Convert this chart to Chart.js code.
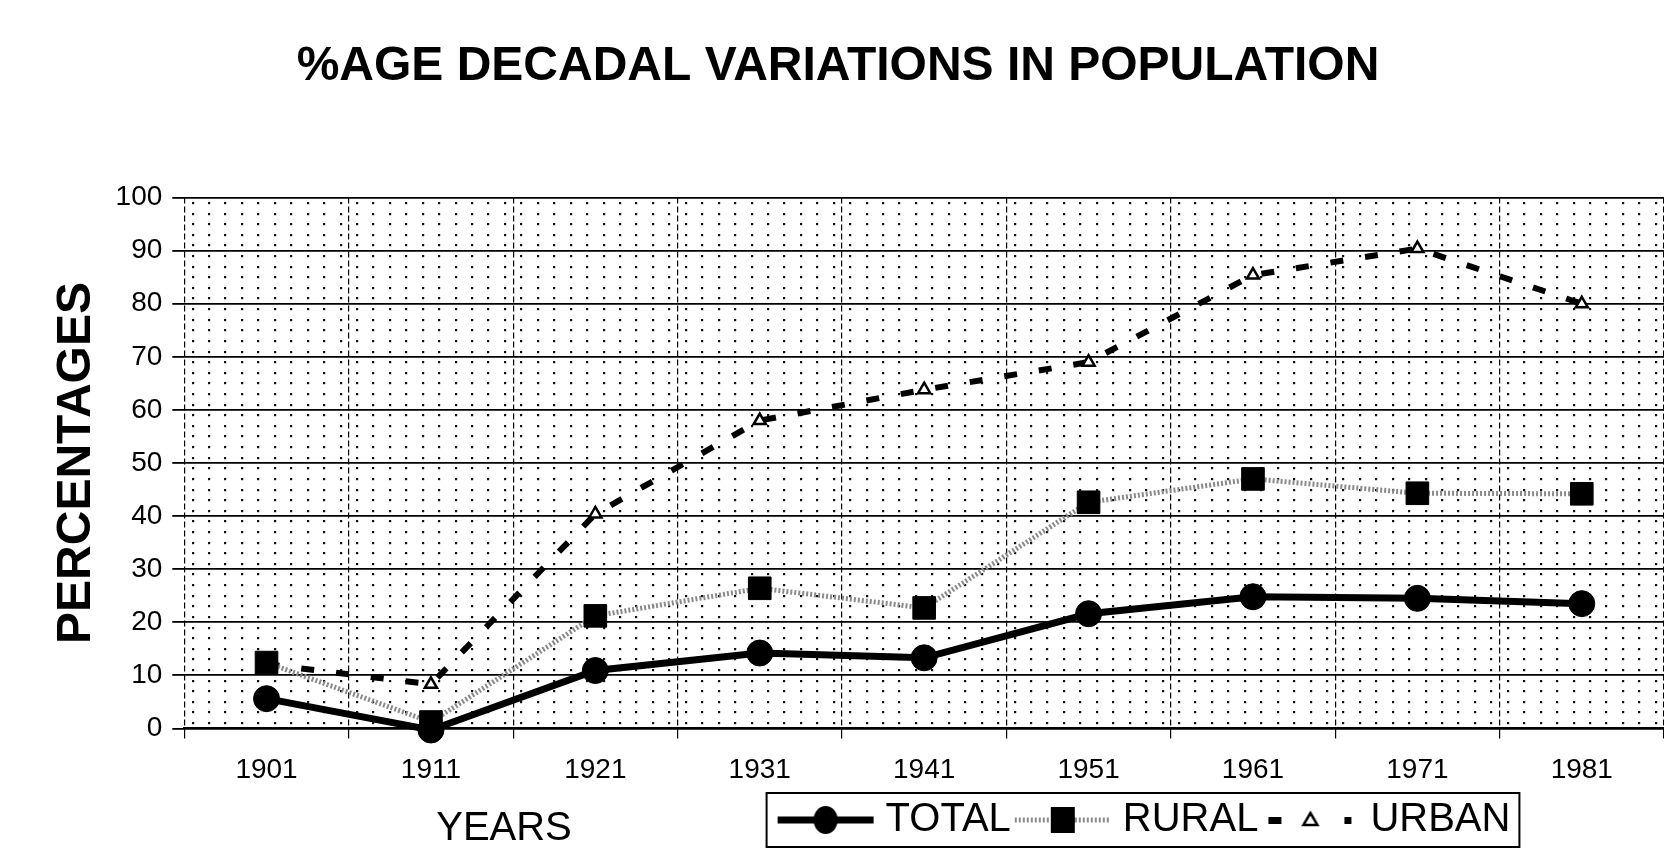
<!DOCTYPE html>
<html>
<head>
<meta charset="utf-8">
<script src="https://cdn.jsdelivr.net/npm/chart.js@4.4.1/dist/chart.umd.min.js"></script>
<style>
  html, body { margin: 0; padding: 0; background: #ffffff; overflow: hidden; }
  #wrap { width: 1664px; height: 864px; }
</style>
</head>
<body>
<div id="wrap"><canvas id="c" width="1664" height="864"></canvas></div>
<script>
// ---------------- data ----------------
const years = ['1901', '1911', '1921', '1931', '1941', '1951', '1961', '1971', '1981'];
const totalValues = [5.6, -0.3, 10.9, 14.2, 13.3, 21.6, 24.8, 24.5, 23.5];
const ruralValues = [12.4, 1.2, 21.2, 26.4, 22.7, 42.6, 47.0, 44.3, 44.2];
const urbanValues = [12.1, 8.3, 40.4, 58.0, 63.8, 69.0, 85.4, 90.4, 80.0];
const yTickValues = [0, 10, 20, 30, 40, 50, 60, 70, 80, 90, 100];
const seriesNames = ['TOTAL', 'RURAL', 'URBAN'];
const chartTitle = '%AGE DECADAL VARIATIONS IN POPULATION';
const xTitle = 'YEARS';
const yTitle = 'PERCENTAGES';

// ---------------- legend icons (line + marker samples) ----------------
function makeIcon(kind) {
  const cv = document.createElement('canvas');
  cv.width = 100; cv.height = 34;
  const g = cv.getContext('2d');
  const cy = 17, cx = 50;
  g.strokeStyle = '#000';
  if (kind === 'total') {
    g.lineWidth = 7;
    g.beginPath(); g.moveTo(2, cy); g.lineTo(98, cy); g.stroke();
    g.fillStyle = '#000';
    g.beginPath(); g.ellipse(cx, cy, 12, 14, 0, 0, Math.PI * 2); g.fill();
  } else if (kind === 'rural') {
    g.strokeStyle = '#8a8a8a';
    g.lineWidth = 5;
    g.setLineDash([2, 2]);
    g.beginPath(); g.moveTo(2, cy); g.lineTo(98, cy); g.stroke();
    g.setLineDash([]);
    g.fillStyle = '#000';
    g.fillRect(cx - 12, cy - 13, 24, 26);
  } else {
    g.fillStyle = '#000';
    g.fillRect(8, cy - 3, 13, 7);
    g.fillRect(84, cy - 3, 7, 7);
    g.lineWidth = 2.5;
    g.fillStyle = '#fff';
    g.beginPath(); g.moveTo(cx, cy - 7); g.lineTo(cx + 7, cy + 5); g.lineTo(cx - 7, cy + 5); g.closePath();
    g.fill(); g.stroke();
  }
  return cv;
}
const legendIcons = [makeIcon('total'), makeIcon('rural'), makeIcon('urban')];

// ---------------- plugins ----------------
const dotBackground = {
  id: 'dotBackground',
  beforeDraw(chart) {
    const { ctx, chartArea: a, scales } = chart;
    const dx = (a.right - a.left) / years.length / 10;
    const dy = Math.abs(scales.y.getPixelForValue(10) - scales.y.getPixelForValue(0)) / 5;
    ctx.save();
    ctx.fillStyle = '#111';
    for (let y = a.top + dy / 2; y < a.bottom; y += dy) {
      for (let x = a.left + dx / 2; x < a.right; x += dx) {
        ctx.fillRect(Math.round(x) - 1, Math.round(y) - 1, 2.2, 2.2);
      }
    }
    ctx.restore();
  }
};

const legendPlace = {
  id: 'legendPlace',
  afterLayout(chart, args, opts) {
    const tb = chart.titleBlock;
    if (tb) { tb.left += opts.titleShiftX; tb.right += opts.titleShiftX; }
    const lg = chart.legend;
    if (!lg) return;
    const delta = opts.centerX - (lg.left + lg.right) / 2;
    lg.left += delta;
    lg.right += delta;
    lg.top += opts.offsetY;
    lg.bottom += opts.offsetY;
  },
  afterDraw(chart, args, opts) {
    const lg = chart.legend;
    const ctx = chart.ctx;
    if (lg && lg.lineWidths) {
      const p = lg.options.labels.padding;
      const lw = lg.lineWidths[0];
      const start = (lg.left + p + lg.right - lw) / 2;
      const end = start + lw - p;
      const itemTop = lg.top + p;
      ctx.save();
      ctx.strokeStyle = '#000';
      ctx.lineWidth = 2;
      ctx.strokeRect(start - 19, itemTop - 7, (end - start) + 28, 40 + 14);
      ctx.restore();
    }
    // x-axis title placed in the legend row, as in the original
    ctx.save();
    ctx.fillStyle = '#000';
    ctx.font = '40px "Liberation Sans", Arial, sans-serif';
    ctx.textAlign = 'center';
    ctx.textBaseline = 'alphabetic';
    ctx.fillText(xTitle, opts.xTitleX, opts.xTitleY);
    ctx.restore();
  }
};

// ---------------- chart ----------------
const FONT = '"Liberation Sans", Arial, sans-serif';

new Chart(document.getElementById('c'), {
  type: 'line',
  data: {
    labels: years,
    datasets: [
      {
        label: seriesNames[0],
        data: totalValues,
        borderColor: '#000',
        backgroundColor: '#000',
        borderWidth: 7,
        pointStyle: 'circle',
        pointRadius: 13,
        pointBackgroundColor: '#000',
        pointBorderColor: '#000',
        pointBorderWidth: 1,
        tension: 0,
        clip: false
      },
      {
        label: seriesNames[1],
        data: ruralValues,
        borderColor: '#8a8a8a',
        backgroundColor: '#000',
        borderWidth: 5,
        borderDash: [2, 2],
        pointStyle: 'rect',
        pointRadius: 16,
        pointBackgroundColor: '#000',
        pointBorderColor: '#000',
        pointBorderWidth: 1,
        tension: 0,
        clip: false
      },
      {
        label: seriesNames[2],
        data: urbanValues,
        borderColor: '#000',
        backgroundColor: '#fff',
        borderWidth: 6,
        borderDash: [13, 22],
        borderCapStyle: 'butt',
        pointStyle: 'triangle',
        pointRadius: 7,
        pointBackgroundColor: '#fff',
        pointBorderColor: '#000',
        pointBorderWidth: 2.5,
        tension: 0,
        clip: false
      }
    ]
  },
  options: {
    responsive: false,
    animation: false,
    devicePixelRatio: 1,
    layout: { autoPadding: false, padding: { left: 34, right: 0, top: 0, bottom: 0 } },
    plugins: {
      title: {
        display: true,
        text: chartTitle,
        color: '#000',
        font: { family: '"Liberation Sans Narrow", "Arial Narrow", "Liberation Sans", Arial, sans-serif', size: 48, weight: 'bold' },
        padding: { top: 38, bottom: 102 }
      },
      legend: {
        position: 'bottom',
        align: 'center',
        labels: {
          usePointStyle: true,
          pointStyleWidth: 80,
          boxHeight: 40,
          padding: 12,
          color: '#000',
          font: { family: FONT, size: 40 },
          generateLabels: (chart) => chart.data.datasets.map((ds, i) => ({
            text: ds.label,
            pointStyle: legendIcons[i],
            fillStyle: '#000',
            strokeStyle: '#000',
            fontColor: '#000',
            lineWidth: 0,
            hidden: false,
            datasetIndex: i
          }))
        }
      },
      tooltip: { enabled: false },
      legendPlace: { centerX: 1148, offsetY: -14, titleShiftX: -11, xTitleX: 504, xTitleY: 840 }
    },
    scales: {
      x: {
        type: 'category',
        offset: true,
        grid: {
          offset: true,
          color: '#000',
          lineWidth: 1.2,
          tickLength: 10,
          drawOnChartArea: true,
          drawTicks: true
        },
        border: { display: true, color: '#000', width: 2, dash: [6, 3] },
        ticks: {
          color: '#000',
          font: { family: FONT, size: 28 },
          padding: 15,
          autoSkip: false,
          maxRotation: 0
        }
      },
      y: {
        min: 0,
        max: 100,
        afterBuildTicks: (scale) => { scale.ticks = yTickValues.map(v => ({ value: v })); },
        grid: { color: '#000', lineWidth: 1.8, tickLength: 12 },
        border: { display: false },
        ticks: {
          color: '#000',
          font: { family: FONT, size: 28 },
          padding: 10
        },
        title: {
          display: true,
          text: yTitle,
          color: '#000',
          font: { family: FONT, size: 48, weight: 'bold' },
          padding: { top: 14, bottom: 0 }
        }
      }
    }
  },
  plugins: [dotBackground, legendPlace]
});
</script>
</body>
</html>
